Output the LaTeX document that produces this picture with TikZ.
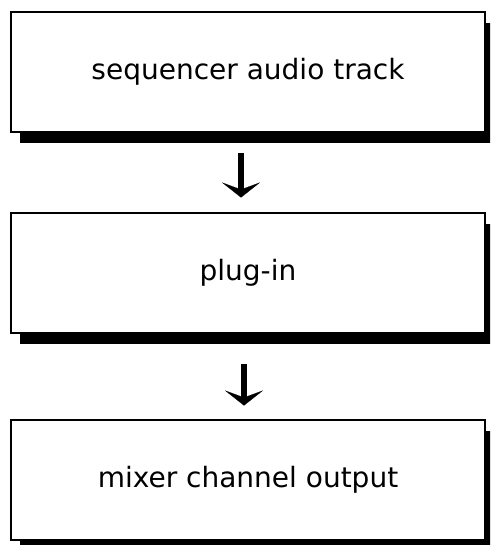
\documentclass[tikz,border=0pt]{standalone}
\usepackage{fontspec}
\setmainfont{DejaVu Sans}
\usetikzlibrary{arrows.meta,shadows}
\begin{document}
\begin{tikzpicture}[x=1pt,y=-1pt,
  stage/.style={draw=black, line width=2pt, fill=white,
    minimum width=474pt, minimum height=120pt, inner sep=0pt,
    font=\fontsize{28}{32}\selectfont,
    drop shadow={shadow xshift=9pt, shadow yshift=-11pt, fill=black, opacity=1}},
  flow/.style={line width=6.5pt,
    -{Stealth[length=15pt, width=38pt, inset=7pt, line width=0.1pt]}}]
  \path[use as bounding box, clip] (0,0) rectangle (490,545);
  \node[stage] (track) at (248,72) {sequencer audio track};
  \node[stage] (plugin) at (248,272.5) {plug-in};
  \node[stage] (mixer) at (248,479.5) {mixer channel output};
  \draw[flow, shorten <=20pt, shorten >=14pt]
    ([xshift=-7pt]track.south) -- ([xshift=-7pt]plugin.north);
  \draw[flow, shorten <=30pt, shorten >=13pt]
    ([xshift=-4pt]plugin.south) -- ([xshift=-4pt]mixer.north);
\end{tikzpicture}
\end{document}
